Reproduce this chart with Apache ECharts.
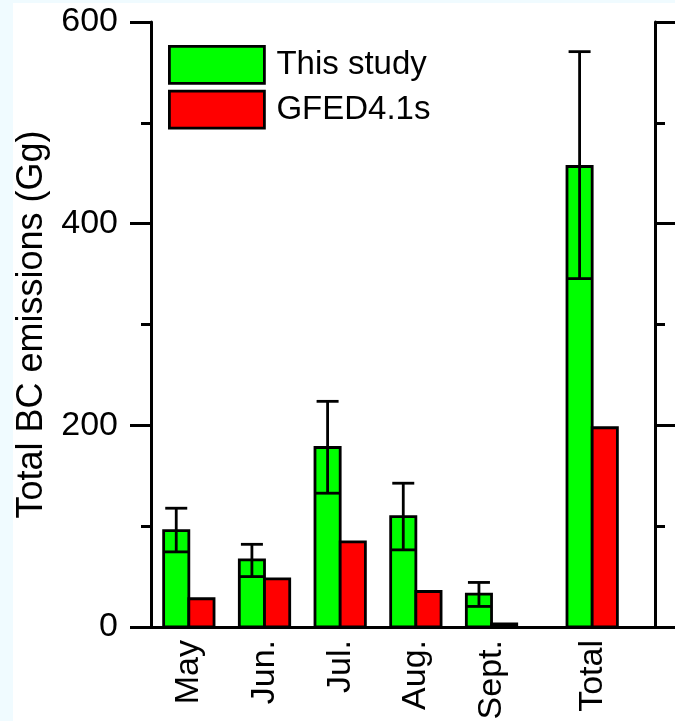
<!DOCTYPE html>
<html>
<head>
<meta charset="utf-8">
<script src="https://cdn.jsdelivr.net/npm/echarts@6/dist/echarts.min.js"></script>
<style>
  html, body { margin: 0; padding: 0; background: #f0fbff; }
  #main { width: 675px; height: 721px; }
</style>
</head>
<body>
<div id="main"></div>
<script>
const categories = ['May', 'Jun.', 'Jul.', 'Aug.', 'Sept.', 'Total'];
const thisStudy = [95.6, 66.6, 178, 109.5, 32.7, 456.7];
const thisStudyLow = [74.5, 50, 132.7, 76.5, 20.4, 345.5];
const thisStudyHigh = [117.8, 82, 223.8, 142.6, 44.2, 570.6];
const gfed = [28, 47.8, 84.5, 35.2, 3, 197.6];
const yTicks = [0, 200, 400, 600];

// slot of each category on the x axis; Total sits a bit apart from the months
const slots = categories.map((c, i) => (i < 5 ? i + 1 : 6.33));
const barW = 0.333;
const font = 'Liberation Sans, Arial, sans-serif';
const line = { stroke: '#000', lineWidth: 2.8 };

function renderStudy(params, api) {
  const x = api.value(0);
  const top = api.coord([x - barW, api.value(1)]);
  const base = api.coord([x, 0]);
  const w = base[0] - top[0];
  const cx = top[0] + w / 2;
  const yLo = api.coord([x, api.value(2)])[1];
  const yHi = api.coord([x, api.value(3)])[1];
  return {
    type: 'group',
    children: [
      { type: 'rect', shape: { x: top[0], y: top[1], width: w, height: base[1] - top[1] },
        style: { fill: '#00ff00', stroke: '#000', lineWidth: 2.8 } },
      { type: 'line', shape: { x1: top[0], y1: yLo, x2: top[0] + w, y2: yLo }, style: line },
      { type: 'line', shape: { x1: cx, y1: yLo, x2: cx, y2: yHi }, style: line },
      { type: 'line', shape: { x1: cx - 11, y1: yHi, x2: cx + 11, y2: yHi }, style: line }
    ]
  };
}

function renderGfed(params, api) {
  const x = api.value(0);
  const top = api.coord([x, api.value(1)]);
  const base = api.coord([x + barW, 0]);
  return {
    type: 'rect',
    shape: { x: top[0], y: top[1], width: base[0] - top[0], height: base[1] - top[1] },
    style: { fill: '#ff0000', stroke: '#000', lineWidth: 2.8 }
  };
}

const chart = echarts.init(document.getElementById('main'));

const yAxisBase = {
  type: 'value',
  min: yTicks[0],
  max: yTicks[yTicks.length - 1],
  interval: yTicks[1] - yTicks[0],
  axisLine: { show: true, lineStyle: { color: '#000', width: 3 } },
  axisTick: { show: true, inside: false, length: 21, lineStyle: { color: '#000', width: 3 } },
  minorTick: { show: true, splitNumber: 2, length: 10, lineStyle: { color: '#000', width: 3 } },
  splitLine: { show: false }
};

chart.setOption({
  backgroundColor: '#f0fbff',
  animation: false,
  graphic: [{
    type: 'rect', left: 13, top: 3, z: -10,
    shape: { width: 662, height: 718 },
    style: { fill: '#ffffff' }
  }],
  grid: { left: 151, right: 20, top: 22, bottom: 94, containLabel: false, outerBoundsMode: 'none' },
  legend: {
    orient: 'vertical',
    left: 168,
    top: 45,
    padding: 0,
    itemWidth: 95,
    itemHeight: 37,
    itemGap: 5,
    textStyle: { fontFamily: font, fontSize: 33, color: '#000', padding: [0, 0, 0, 7] },
    data: [
      { name: 'This study', icon: 'rect', itemStyle: { color: '#00ff00', borderColor: '#000', borderWidth: 2.8 } },
      { name: 'GFED4.1s', icon: 'rect', itemStyle: { color: '#ff0000', borderColor: '#000', borderWidth: 2.8 } }
    ]
  },
  xAxis: [{
    type: 'value',
    min: 0.5,
    max: 7.16,
    position: 'bottom',
    axisLine: { show: true, lineStyle: { color: '#000', width: 3 } },
    axisTick: { show: false },
    splitLine: { show: false },
    axisLabel: {
      customValues: slots,
      rotate: 90,
      margin: 13,
      fontFamily: font,
      fontSize: 34,
      color: '#000',
      formatter: v => categories[slots.indexOf(v)]
    }
  }, {
    type: 'value',
    min: 0.5,
    max: 7.16,
    position: 'top',
    axisLine: { show: true, lineStyle: { color: '#000', width: 3 } },
    axisTick: { show: false },
    axisLabel: { show: false },
    splitLine: { show: false }
  }],
  yAxis: [Object.assign({}, yAxisBase, {
    position: 'left',
    name: 'Total BC emissions (Gg)',
    nameLocation: 'middle',
    nameGap: 97,
    nameTextStyle: { fontFamily: font, fontSize: 36, color: '#000' },
    axisLabel: { fontFamily: font, fontSize: 34, color: '#000', margin: 33 }
  }), Object.assign({}, yAxisBase, {
    position: 'right',
    axisLabel: { show: false }
  })],
  series: [{
    name: 'This study',
    type: 'custom',
    renderItem: renderStudy,
    itemStyle: { color: '#00ff00', borderColor: '#000', borderWidth: 2.8 },
    encode: { x: 0, y: 1 },
    data: slots.map((x, i) => [x, thisStudy[i], thisStudyLow[i], thisStudyHigh[i]])
  }, {
    name: 'GFED4.1s',
    type: 'custom',
    renderItem: renderGfed,
    itemStyle: { color: '#ff0000', borderColor: '#000', borderWidth: 2.8 },
    encode: { x: 0, y: 1 },
    data: slots.map((x, i) => [x, gfed[i]])
  }]
});
</script>
</body>
</html>
